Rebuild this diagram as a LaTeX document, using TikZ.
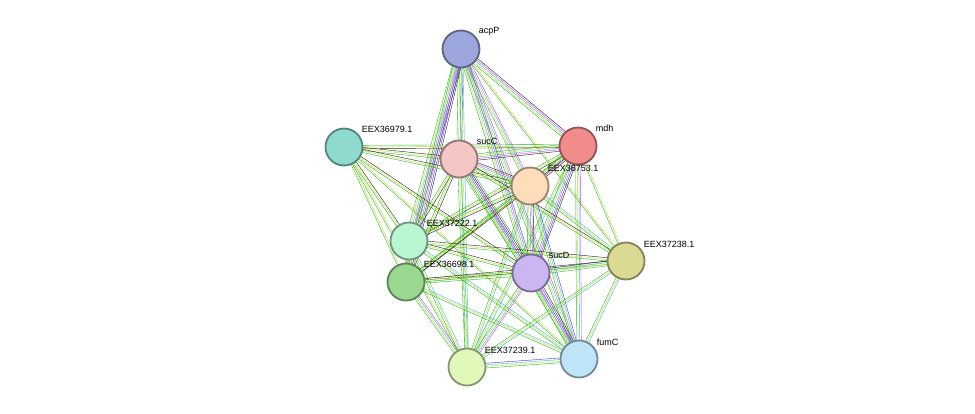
\documentclass[tikz,border=0pt]{standalone}
\usepackage{fontspec}
\setmainfont{Liberation Sans}
\usetikzlibrary{calc,backgrounds}
\definecolor{eg}{HTML}{22BB22}
\definecolor{ey}{HTML}{C8DC30}
\definecolor{eb}{HTML}{3333EE}
\definecolor{em}{HTML}{DD33DD}
\definecolor{ec}{HTML}{33BBCC}
\definecolor{ek}{HTML}{222222}
\tikzset{
  prot/.style={draw=#1!60!black,fill=#1,circle,line width=1.8pt,minimum size=37pt,inner sep=0pt},
  lab/.style={font=\small,anchor=south west,inner sep=1pt,xshift=3pt,yshift=-1pt},
}
\begin{document}
\begin{tikzpicture}[x=1pt,y=-1pt]
\useasboundingbox (0,0) rectangle (975,413);
% proteins
\definecolor{cA}{HTML}{9DA6DC}\definecolor{cB}{HTML}{F28C8C}
\definecolor{cC}{HTML}{8FDACF}\definecolor{cD}{HTML}{F5C6C6}
\definecolor{cE}{HTML}{FDDDBA}\definecolor{cF}{HTML}{BAF6D2}
\definecolor{cG}{HTML}{9AD890}\definecolor{cH}{HTML}{CBB6F2}
\definecolor{cI}{HTML}{DADA92}\definecolor{cJ}{HTML}{E0F8BA}
\definecolor{cK}{HTML}{BEE4F8}
\node[prot=cA] (acpP) at (461,49) {};
\node[prot=cB] (mdh) at (578,146) {};
\node[prot=cC] (e979) at (344,147) {};
\node[prot=cD] (sucC) at (459,159) {};
\node[prot=cE] (e753) at (530,186) {};
\node[prot=cF] (e222) at (409,241) {};
\node[prot=cG] (e698) at (406,282) {};
\node[prot=cH] (sucD) at (531,273) {};
\node[prot=cI] (e238) at (626,261) {};
\node[prot=cJ] (e239) at (467,367) {};
\node[prot=cK] (fumC) at (579,359) {};
\node[lab] at (acpP.north east) {acpP};
\node[lab] at (mdh.north east) {mdh};
\node[lab] at (e979.north east) {EEX36979.1};
\node[lab] at (sucC.north east) {sucC};
\node[lab] at (e753.north east) {EEX36753.1};
\node[lab] at (e222.north east) {EEX37222.1};
\node[lab] at (e698.north east) {EEX36698.1};
\node[lab] at (sucD.north east) {sucD};
\node[lab] at (e238.north east) {EEX37238.1};
\node[lab] at (e239.north east) {EEX37239.1};
\node[lab] at (fumC.north east) {fumC};
% associations
\begin{scope}[on background layer,line width=1.2pt]
\foreach \a/\b/\cl in {
  acpP/mdh/{eg,ey,ec,em,ek}, acpP/sucC/{eg,ey,ec,eb}, acpP/e753/{eg,ey,ec,em},
  acpP/e222/{eg,ey,ec,em,eb,ek}, acpP/e698/{eg,ey,ec,em,eb,ek}, acpP/sucD/{eg,ey,ec,em,eb},
  acpP/fumC/{eg,ey,ec,em}, acpP/e239/{eg,ey,ec}, acpP/e238/{eg,ey},
  mdh/sucC/{eg,ey,ec,em,ek}, mdh/e753/{eg,ey,ec,em,ek}, mdh/sucD/{eg,ey,ec,em,eb,ek},
  mdh/e979/{eg,ey,ek}, mdh/e222/{eg,ey,ek}, mdh/e698/{eg,ey,ek}, mdh/fumC/{eg,ey,ec,em},
  mdh/e239/{eg,ey,ec}, mdh/e238/{eg,ey},
  e979/sucC/{eg,ey,ek}, e979/e753/{eg,ey,ek}, e979/e222/{eg,ey,ek}, e979/e698/{eg,ey},
  e979/sucD/{eg,ey,ek}, e979/e239/{eg,ey}, e979/fumC/{eg,ey},
  sucC/e753/{eg,ey,ec,em,ek}, sucC/sucD/{eg,ey,ec,em,eb,ek,eg}, sucC/e222/{eg,ey,ek},
  sucC/e698/{eg,ey,ek}, sucC/e238/{eg,ey,ek}, sucC/e239/{eg,ey,ec}, sucC/fumC/{eg,ey,ec,em},
  e753/sucD/{eg,ey,ec,em,ek}, e753/e222/{eg,ey,ek}, e753/e698/{eg,ey,ek}, e753/e238/{eg,ey,ec},
  e753/e239/{eg,ey,ec}, e753/fumC/{eg,ey,ec,eb},
  e222/e698/{eg,ey,ek}, e222/sucD/{eg,ey,ek}, e222/e238/{eg,ey,ek}, e222/e239/{eg,ey,ec},
  e222/fumC/{eg,ey,ec},
  e698/sucD/{eg,ey,ek,eg}, e698/e238/{eg,ey,ek}, e698/e239/{eg,ey,ec,em}, e698/fumC/{eg,ey,ec},
  sucD/e238/{eg,ey,ec,ek}, sucD/e239/{eg,ey,ec,em}, sucD/fumC/{eg,ey,ec,em,eb,ek},
  e238/e239/{eg,ey,ec}, e238/fumC/{eg,ey,ec},
  e239/fumC/{eg,ey,ec,eb}}
{
  \foreach \c [count=\i] in \cl {\global\let\nn\i}
  \foreach \c [count=\i] in \cl {
    \pgfmathsetmacro{\o}{(\i-(\nn+1)/2)*1.6}
    \draw[\c] ($(\a)!\o pt!90:(\b)$) -- ($(\b)!\o pt!-90:(\a)$);
  }
}
\end{scope}
\end{tikzpicture}
\end{document}
